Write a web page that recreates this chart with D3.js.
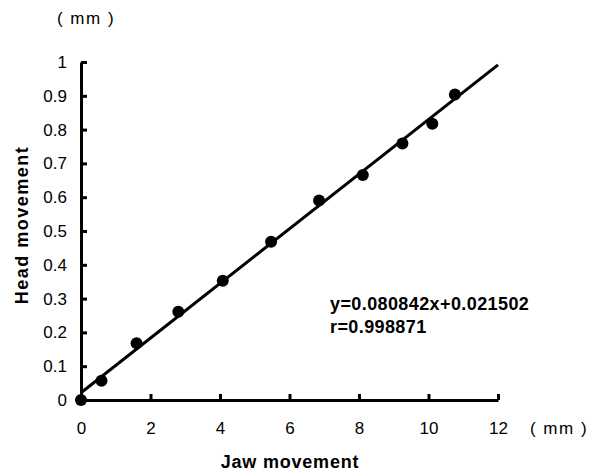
<!DOCTYPE html>
<html>
<head>
<script src="https://d3js.org/d3.v7.min.js"></script>
<style>
body { margin: 0; background: #fff; }
text { font-family: "Liberation Sans", Arial, sans-serif; fill: #000; }
</style>
</head>
<body>
<script>
// measured points (Jaw movement mm, Head movement mm)
const jaw  = [0, 0.59, 1.60, 2.80, 4.08, 5.47, 6.85, 8.11, 9.25, 10.11, 10.76];
const head = [0, 0.057, 0.168, 0.261, 0.353, 0.468, 0.590, 0.666, 0.759, 0.817, 0.904];
const slope = 0.080842, intercept = 0.021502;
const xTicks = [0, 2, 4, 6, 8, 10, 12];
const yTicks = [0, 0.1, 0.2, 0.3, 0.4, 0.5, 0.6, 0.7, 0.8, 0.9, 1];

const width = 590, height = 474;
const svg = d3.select('body').append('svg')
    .attr('width', width).attr('height', height);

const x = d3.scaleLinear().domain([0, 12]).range([81, 498]);
const y = d3.scaleLinear().domain([0, 1]).range([400, 62]);

// axes with inward ticks
const xAxis = svg.append('g').attr('transform', `translate(0,${y(0)})`)
    .call(d3.axisBottom(x).tickValues(xTicks).tickSizeInner(-6).tickSizeOuter(0).tickPadding(19).tickFormat(d3.format('d')));
const yAxis = svg.append('g').attr('transform', `translate(${x(0)},0)`)
    .call(d3.axisLeft(y).tickValues(yTicks).tickSizeInner(-6).tickSizeOuter(0).tickPadding(14).tickFormat(d => d === 0 || d === 1 ? d : d.toFixed(1)));

[xAxis, yAxis].forEach(g => {
    g.select('.domain').attr('stroke', '#000').attr('stroke-width', 3);
    g.selectAll('.tick line').attr('stroke', '#000').attr('stroke-width', 3);
    g.selectAll('.tick text').attr('font-size', 17).attr('font-family', '"Liberation Sans", Arial, sans-serif');
});
xAxis.selectAll('.tick text').attr('dy', '0.9em');

// regression line
svg.append('line')
    .attr('x1', x(0)).attr('y1', y(intercept))
    .attr('x2', x(12)).attr('y2', y(slope * 12 + intercept))
    .attr('stroke', '#000').attr('stroke-width', 3);

// points
svg.selectAll('circle.pt')
    .data(jaw.map((d, i) => [d, head[i]]))
    .enter().append('circle')
    .attr('class', 'pt')
    .attr('cx', d => x(d[0]))
    .attr('cy', d => y(d[1]))
    .attr('r', 6)
    .attr('fill', '#000');

// units
svg.append('text').attr('x', 86).attr('y', 24).attr('text-anchor', 'middle')
    .attr('font-size', 17).attr('letter-spacing', 1.5).text('( mm )');
svg.append('text').attr('x', 559).attr('y', 434).attr('text-anchor', 'middle')
    .attr('font-size', 17).attr('letter-spacing', 1.5).text('( mm )');

// axis titles
svg.append('text').attr('x', 290).attr('y', 468).attr('text-anchor', 'middle')
    .attr('font-size', 18).attr('font-weight', 'bold').attr('letter-spacing', 0.8).text('Jaw movement');
svg.append('text').attr('transform', 'translate(28,225) rotate(-90)')
    .attr('text-anchor', 'middle')
    .attr('font-size', 18).attr('font-weight', 'bold').attr('letter-spacing', 1.5).text('Head movement');

// equation
svg.append('text').attr('x', 330).attr('y', 310)
    .attr('font-size', 18).attr('font-weight', 'bold').attr('letter-spacing', 0.4).text('y=0.080842x+0.021502');
svg.append('text').attr('x', 330).attr('y', 333)
    .attr('font-size', 18).attr('font-weight', 'bold').attr('letter-spacing', 0.4).text('r=0.998871');
</script>
</body>
</html>
